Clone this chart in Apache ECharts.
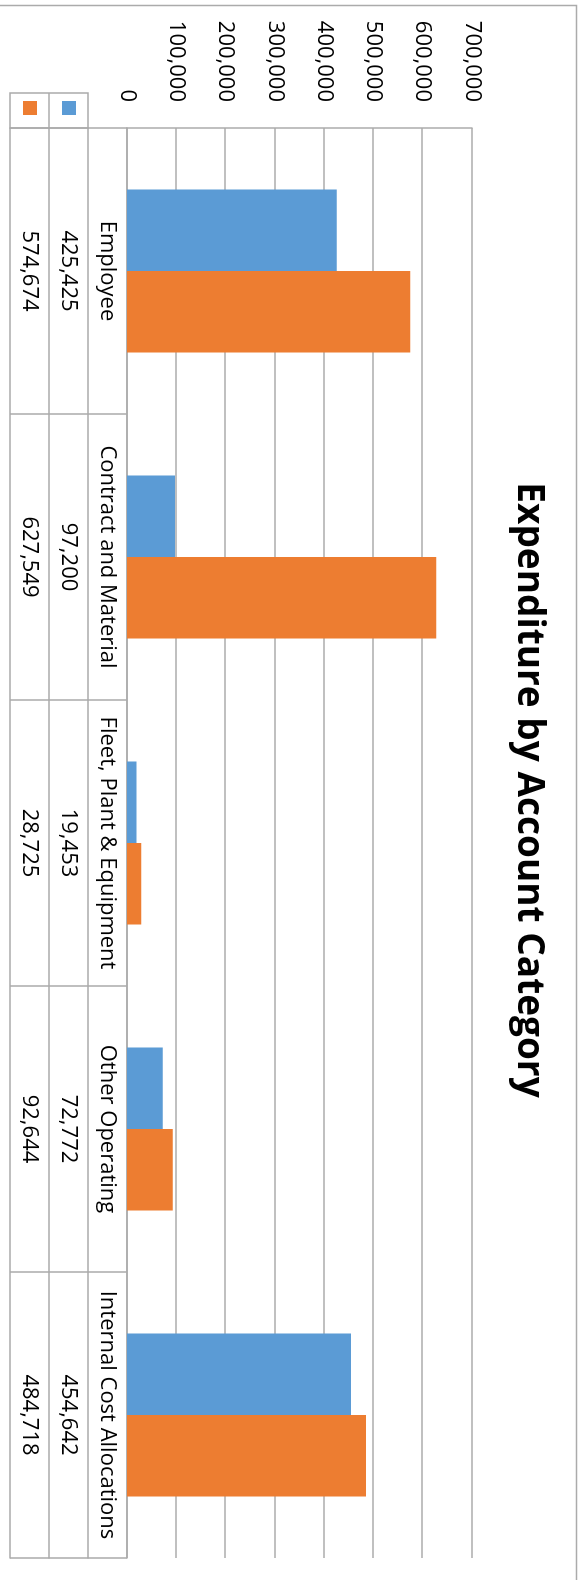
<!DOCTYPE html>
<html>
<head>
<meta charset="utf-8">
<script src="https://cdn.jsdelivr.net/npm/echarts@6/dist/echarts.min.js"></script>
<style>
html, body { margin: 0; padding: 0; background: #fff; overflow: hidden; }
#wrap { width: 579px; height: 1580px; position: relative; overflow: hidden; }
/* chart is drawn as a normal column chart, then turned a quarter clockwise */
#chart {
  position: absolute; left: 0; top: 0;
  width: 1580px; height: 579px;
  transform-origin: 0 0;
  transform: translate(579px, 0) rotate(90deg);
}
</style>
</head>
<body>
<div id="wrap"><div id="chart"></div></div>
<script>
var categories = ['Employee', 'Contract and Material', 'Fleet, Plant & Equipment', 'Other Operating', 'Internal Cost Allocations'];
var seriesA = [425425, 97200, 19453, 72772, 454642];
var seriesB = [574674, 627549, 28725, 92644, 484718];
var valueMin = 0, valueMax = 700000, valueStep = 100000;

var lineColor = '#ABABAB';
var font = 'Open Sans';
function fmt(v) { return Number(v).toLocaleString('en-US'); }

var tableRow = function (offset, values, showTicks) {
  return {
    type: 'category',
    data: categories,
    position: 'bottom',
    offset: offset,
    axisLine: {show: true, lineStyle: {color: lineColor, width: 1.5}},
    axisTick: {show: showTicks, length: 117, lineStyle: {color: lineColor, width: 1.5}},
    axisLabel: {
      show: values !== null,
      interval: 0,
      margin: 19.5,
      verticalAlign: 'middle',
      color: '#000',
      fontSize: 22,
      fontFamily: font,
      formatter: function (val, idx) { return values ? values[idx] : ''; }
    },
    splitLine: {show: false}
  };
};

var myChart = echarts.init(document.getElementById('chart'));
var option = {
  backgroundColor: '#fff',
  animation: false,
  title: {
    text: 'Expenditure by Account Category',
    left: 'center',
    top: 27,
    padding: [5, 5, 5, 17],
    textStyle: {fontFamily: font, fontSize: 37, fontWeight: 'bold', color: '#000'}
  },
  legend: {
    orient: 'vertical',
    left: 101,
    top: 503,
    padding: 0,
    itemWidth: 14,
    itemHeight: 14,
    itemGap: 25,
    icon: 'rect',
    formatter: function () { return ''; },
    data: ['A', 'B']
  },
  grid: {left: 128, right: 22, top: 107, bottom: 127},
  xAxis: [
    tableRow(0, categories, true),
    tableRow(39, seriesA.map(fmt), false),
    tableRow(78, seriesB.map(fmt), false),
    tableRow(117, null, false)
  ],
  yAxis: {
    type: 'value',
    min: valueMin,
    max: valueMax,
    interval: valueStep,
    axisLine: {show: true, lineStyle: {color: lineColor, width: 1.5}},
    axisTick: {show: false},
    axisLabel: {margin: 26, color: '#000', fontSize: 22, fontFamily: font, formatter: fmt},
    splitLine: {show: true, lineStyle: {color: lineColor, width: 1.5}}
  },
  graphic: [
    // header cells of the data table (legend keys sit in them)
    {type: 'rect', shape: {x: 93, y: 491, width: 35, height: 78}, style: {fill: 'none', stroke: lineColor, lineWidth: 1.5}},
    {type: 'line', shape: {x1: 93, y1: 530, x2: 128, y2: 530}, style: {stroke: lineColor, lineWidth: 1.5}},
    // chart area border
    {type: 'rect', shape: {x: 5.5, y: 2.5, width: 1700, height: 700}, style: {fill: 'none', stroke: lineColor, lineWidth: 1.5}, silent: true}
  ],
  series: [
    {name: 'A', type: 'bar', data: seriesA, barGap: '0%', barCategoryGap: '43%', itemStyle: {color: '#5B9BD5'}},
    {name: 'B', type: 'bar', data: seriesB, barGap: '0%', barCategoryGap: '43%', itemStyle: {color: '#ED7D31'}}
  ]
};
myChart.setOption(option);
</script>
</body>
</html>
